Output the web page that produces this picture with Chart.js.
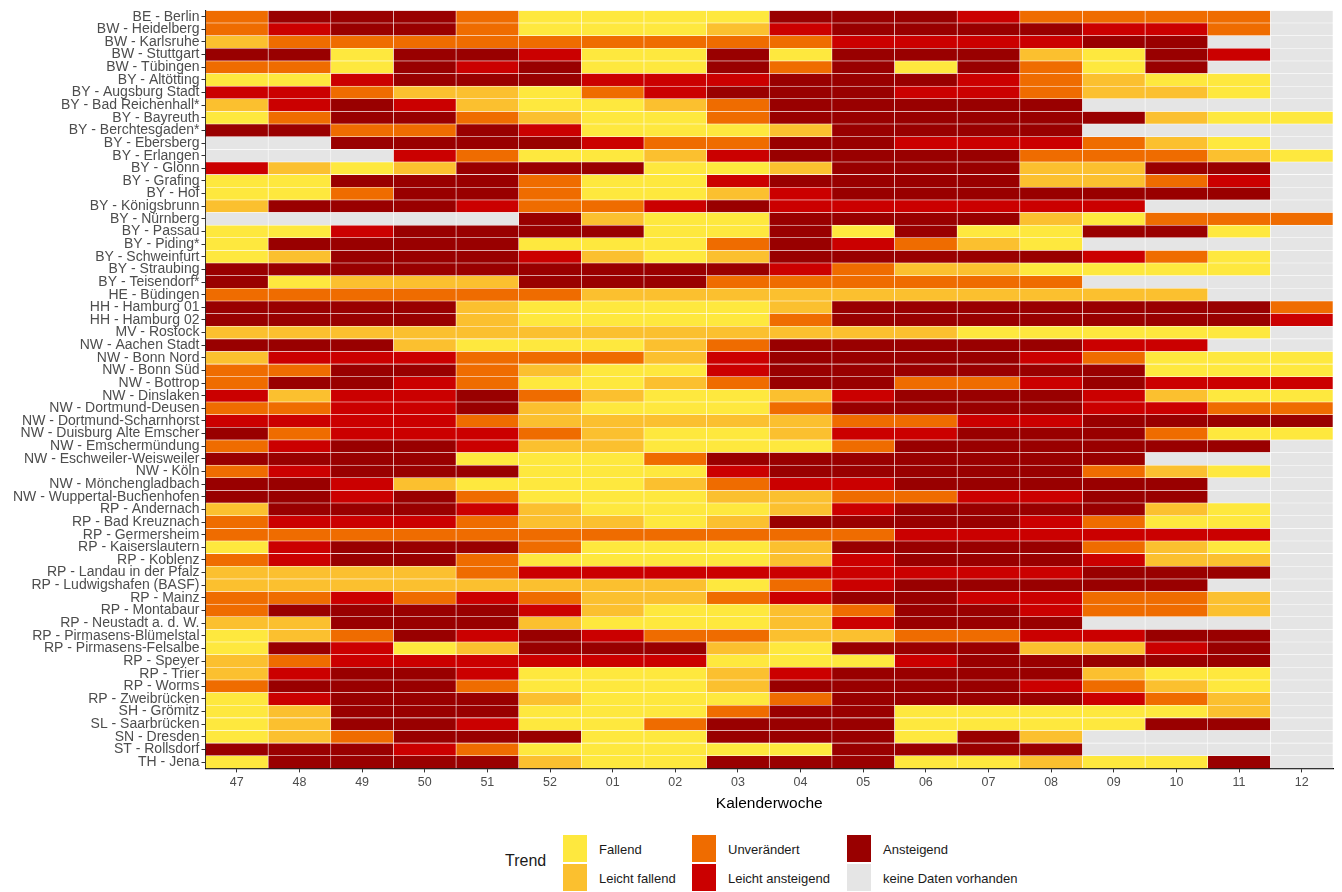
<!DOCTYPE html>
<html>
<head>
<meta charset="utf-8">
<script src="https://cdn.jsdelivr.net/npm/chart.js@4"></script>
<style>
  body { margin: 0; background: #fff; font-family: "Liberation Sans", Arial, sans-serif; }
  #wrap { position: relative; width: 1342px; height: 817px; }
  #legend { position: absolute; left: 0; top: 830px; width: 1342px; height: 60px; color: #1a1a1a; font-size: 13px; }
  .sw { position: absolute; width: 24px; height: 27px; }
  .lt { position: absolute; }
</style>
</head>
<body>
<div id="wrap"><canvas id="chart" width="1342" height="817"></canvas></div>
<div id="legend"></div>
<script>
// Kalenderwochen
let weeks = ["47","48","49","50","51","52","01","02","03","04","05","06","07","08","09","10","11","12"];

// Standorte
let sites = [
  "BE - Berlin","BW - Heidelberg","BW - Karlsruhe","BW - Stuttgart","BW - Tübingen",
  "BY - Altötting","BY - Augsburg Stadt","BY - Bad Reichenhall*","BY - Bayreuth","BY - Berchtesgaden*",
  "BY - Ebersberg","BY - Erlangen","BY - Glonn","BY - Grafing","BY - Hof","BY - Königsbrunn",
  "BY - Nürnberg","BY - Passau","BY - Piding*","BY - Schweinfurt","BY - Straubing","BY - Teisendorf*",
  "HE - Büdingen","HH - Hamburg 01","HH - Hamburg 02","MV - Rostock",
  "NW - Aachen Stadt","NW - Bonn Nord","NW - Bonn Süd","NW - Bottrop","NW - Dinslaken",
  "NW - Dortmund-Deusen","NW - Dortmund-Scharnhorst","NW - Duisburg Alte Emscher","NW - Emschermündung",
  "NW - Eschweiler-Weisweiler","NW - Köln","NW - Mönchengladbach","NW - Wuppertal-Buchenhofen",
  "RP - Andernach","RP - Bad Kreuznach","RP - Germersheim","RP - Kaiserslautern","RP - Koblenz",
  "RP - Landau in der Pfalz","RP - Ludwigshafen (BASF)","RP - Mainz","RP - Montabaur","RP - Neustadt a. d. W.",
  "RP - Pirmasens-Blümelstal","RP - Pirmasens-Felsalbe","RP - Speyer","RP - Trier","RP - Worms",
  "RP - Zweibrücken","SH - Grömitz","SL - Saarbrücken","SN - Dresden","ST - Rollsdorf","TH - Jena"
];

// Trend je Woche: F fallend, L leicht fallend, U unverändert, A leicht ansteigend, S ansteigend, N keine Daten
let trends = [
  "USSSUFFFFSSSAUUUUN","UASSUFFFLASSSSAAUN","LUUUUUUUUUAAAASSNN","SSFSSAFFSFSSSLFSAN","UUFSASFFSUSFSUFSNN",
  "FFASSSAAASSSAULFFN","AAULLFUASSSAAULLFN","LASALFFLUSSSSSNNNN","FUSSULFFUSSSSSSLFF","SSUUSAFFFLSSSSNNNN",
  "NNSSSSAUUSSAAAULFN","NNNAUFFLASSSSUUULF","ALFLSSSFFLSSSLLSSN","FFSSSUFFASSSSLLUAN","FFUSSUFFLASSSSSSSN","LSSSAUUASAAAAAANNN",
  "NNNNNSLFFSSSSLFUUU","FFASSSSFFSFSFFSSFN","FSSSSFFFUSAULFNNNN","FLSSSALFLSSSSSAUFN","SSSSSSSSSAULLFFFFN","SFLLLSSSUUUUUUNNNN",
  "UUUUUULLLLLLLLLLNN","SSSSLFFFFLSSSSSSSU","SSSSLFFFFUSSSSSSSA","LLLLLLLLLLLLFFFFFN",
  "SSSLFFFLUSSSSSAANN","LAAAUUULASSSSAUFFF","UUSSULFFASSSSSSFFF","USSAUFFLUSSUUASAAA","ALAASULFFLASSSALFF",
  "UUAASLFFFUSSSSAAUU","AAAAULLLLLUUAASSSS","SUAAAULFFLAASSSUFF","UASSALLFFFUSSSSSSN",
  "SSSSFFFUSSSSSSSNNN","UASSSFFFASSSSSULFN","SSALFFFLUAASSSSSNN","SSASUFFFLLUUAASSNN",
  "LSSSALFFFLASSSSLFN","UAAAULLFLSSSSAUFFN","UUUUUUUUUUUAAAAAAN","FASSSUFFFLSSSSULFN","UASSUFFFFLASSSALLN",
  "LLLLUAAAAAAAAASSSN","LLLLLLLLFUASSSSSNN","UUAUAULLUASSAAUULN","USSSSALFFLUSSAUULN","LLSSSLFFFLASSSNNNN",
  "FLUSASAUULLUUAASSN","FSAFLSSSLFSSSLLASN","LUAAAAAAFFFASSSSSN","LASSAFFFLASSSSLFFN","USSSUFFFLSSSSAULFN",
  "FASSSLFFFUSSSSAULN","FLSSSFFFUSSFFFFFLN","FLSSAFFUSSSFFFFSSN","FLUSSSFFSSSFSLNNNN","SSSAUFFFFFSSSSNNNN","FSSSSLFFSSSFFLFFSN"
];

let codes = ["F","L","U","A","S","N"];
let names = ["Fallend","Leicht fallend","Unverändert","Leicht ansteigend","Ansteigend","keine Daten vorhanden"];
let colors = ["#FEE83E","#FBC02F","#EF6C00","#CB0000","#990000","#E5E5E5"];

// 📊 one stacked dataset per week, each cell one unit wide
let datasets = weeks.map((w, j) => ({
  label: w,
  data: sites.map(() => 1),
  backgroundColor: trends.map(t => colors[codes.indexOf(t[j])]),
  borderColor: "rgba(255,255,255,0.45)",
  borderWidth: 0.6,
  borderSkipped: false,
  barPercentage: 1,
  categoryPercentage: 1
}));

new Chart(document.getElementById("chart"), {
  type: "bar",
  data: { labels: sites, datasets: datasets },
  options: {
    indexAxis: "y",
    responsive: false,
    animation: false,
    layout: { padding: { top: 0, right: 9, left: 11, bottom: 0 } },
    plugins: { legend: { display: false }, tooltip: { enabled: false } },
    scales: {
      x: {
        type: "linear", stacked: true, min: 0, max: 18,
        afterBuildTicks: ax => { ax.ticks = weeks.map((w, i) => ({ value: i + 0.5 })); },
        ticks: { autoSkip: false, maxRotation: 0, color: "#4d4d4d", font: { size: 12.5 },
                 callback: (v, i) => weeks[i] },
        grid: { drawOnChartArea: false, tickLength: 4, color: "#333" },
        border: { color: "#000", width: 1.2 },
        title: { display: true, text: "Kalenderwoche", color: "#000", font: { size: 15.5 }, padding: { top: 1 } }
      },
      y: {
        stacked: true,
        ticks: { autoSkip: false, color: "#4d4d4d", font: { size: 14 }, padding: 2 },
        grid: { drawOnChartArea: false, offset: false, tickLength: 4, color: "#333" },
        border: { color: "#000", width: 1.2 }
      }
    }
  }
});

// 🏷️ LEGEND
let leg = document.getElementById("legend");
let html = '<div class="lt" style="left:505px;top:22px;font-size:16px">Trend</div>';
let cols = [563, 692, 847];
names.forEach((n, i) => {
  let c = Math.floor(i / 2), r = i % 2;
  let x = cols[c], y = 5 + r * 29;
  html += `<div class="sw" style="left:${x}px;top:${y}px;background:${colors[i]}"></div>`;
  html += `<div class="lt" style="left:${x + 36}px;top:${y + 7}px">${n}</div>`;
});
leg.innerHTML = html;
</script>
</body>
</html>
